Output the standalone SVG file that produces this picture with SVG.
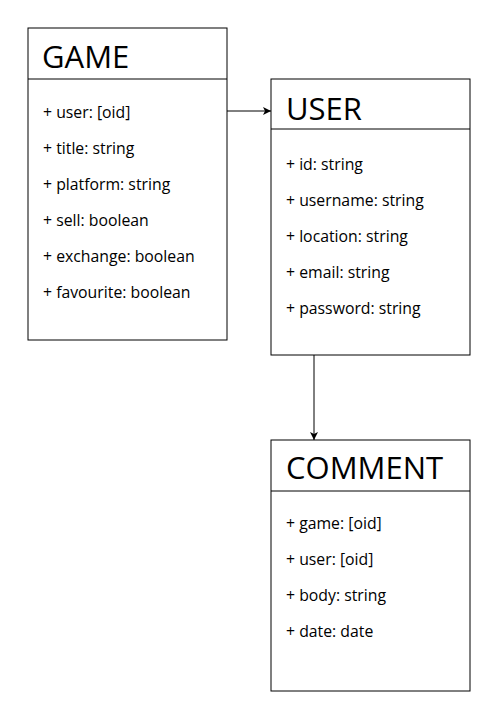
<svg xmlns="http://www.w3.org/2000/svg" width="501" height="701" viewBox="0 0 501 701">
<style>
.box{fill:#fff;stroke:#000;stroke-width:1}
.div{stroke:#000;stroke-width:1}
.hd{font-family:"Open Sans","Liberation Sans",sans-serif;font-size:31px;fill:#000}
.at{font-family:"Open Sans","Liberation Sans",sans-serif;font-size:15.8px;fill:#000}
.conn{stroke:#000;stroke-width:1;fill:none}
</style>
<defs>
<marker id="arr" viewBox="0 0 10 10" refX="10" refY="5" markerWidth="8" markerHeight="8" markerUnits="userSpaceOnUse" orient="auto">
<path d="M0,0 L10,5 L0,10 L2.5,5 Z" fill="#000"/>
</marker>
</defs>
<rect width="501" height="701" fill="#fff"/>
<g id="game">
<rect class="box" x="28" y="28" width="199" height="312"/>
<line class="div" x1="28" y1="79" x2="227" y2="79"/>
<text class="hd" x="42" y="68">GAME</text>
<text class="at" x="43" y="118">+ user: [oid]</text>
<text class="at" x="43" y="154">+ title: string</text>
<text class="at" x="43" y="190">+ platform: string</text>
<text class="at" x="43" y="226">+ sell: boolean</text>
<text class="at" x="43" y="262">+ exchange: boolean</text>
<text class="at" x="43" y="298">+ favourite: boolean</text>
</g>
<g id="user">
<rect class="box" x="271" y="79" width="199" height="276"/>
<line class="div" x1="271" y1="129" x2="470" y2="129"/>
<text class="hd" x="286" y="120">USER</text>
<text class="at" x="286" y="170">+ id: string</text>
<text class="at" x="286" y="206">+ username: string</text>
<text class="at" x="286" y="242">+ location: string</text>
<text class="at" x="286" y="278">+ email: string</text>
<text class="at" x="286" y="314">+ password: string</text>
</g>
<g id="comment">
<rect class="box" x="271" y="440" width="199" height="251"/>
<line class="div" x1="271" y1="491" x2="470" y2="491"/>
<text class="hd" x="286" y="479">COMMENT</text>
<text class="at" x="286" y="529">+ game: [oid]</text>
<text class="at" x="286" y="565">+ user: [oid]</text>
<text class="at" x="286" y="601">+ body: string</text>
<text class="at" x="286" y="637">+ date: date</text>
</g>
<g id="connectors">
<line class="conn" x1="227" y1="111" x2="271" y2="111" marker-end="url(#arr)"/>
<line class="conn" x1="314" y1="355" x2="314" y2="440" marker-end="url(#arr)"/>
</g>
</svg>
